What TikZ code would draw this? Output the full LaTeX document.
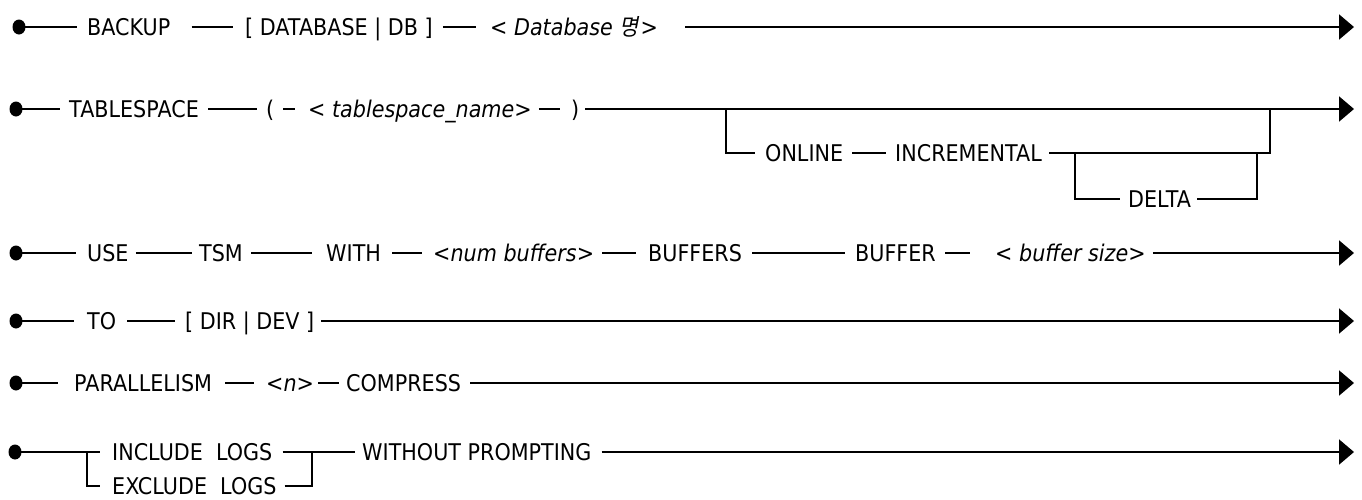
\documentclass[tikz,border=0pt]{standalone}
\usepackage{fontspec}
\setmainfont{DejaVu Sans}[FakeStretch=0.9]
\newfontfamily\krfont[FakeSlant=0.2,FakeStretch=0.9]{Noto Sans CJK KR}
\usetikzlibrary{arrows.meta,shapes.geometric}
\begin{document}
\begin{tikzpicture}[x=1pt,y=-1pt,
  txt/.style={font=\fontsize{23}{27}\selectfont, inner sep=0pt, anchor=west, text height=16.8pt, text depth=0pt},
  itx/.style={txt, font=\fontsize{23}{27}\selectfont\itshape},
  ln/.style={line width=2pt},
  arr/.style={ln, -{Triangle[length=15pt,width=25pt]}},
  dot/.style={ellipse, fill, inner sep=0pt, minimum width=13pt, minimum height=15pt}]
\fill[white] (0,0) rectangle (1362,499);
\useasboundingbox (0,0) rectangle (1362,499);

% Row 1
\node[dot] (d1) at (19,27) {};
\node[txt] (backup) at (87,27) {BACKUP};
\node[txt] (dbkw) at (245,27) {[ DATABASE | DB ]};
\node[itx] (dbname) at (490,27) {< Database {\krfont 명}\kern2pt>};
\coordinate (e1) at (1354,27);
\draw[ln] (d1.center) -- ([xshift=-10pt]backup.west);
\draw[ln] ([xshift=21pt]backup.east) -- ([xshift=-12pt]dbkw.west);
\draw[ln] ([xshift=10pt]dbkw.east) -- ([xshift=-14pt]dbname.west);
\draw[arr] ([xshift=27pt]dbname.east) -- (e1);

% Row 2
\node[dot] (d2) at (16,109) {};
\node[txt] (ts) at (69,109) {TABLESPACE};
\node[txt] (lp) at (266,109) {(};
\node[itx] (tsn) at (308,109) {< tablespace\_name>};
\node[txt] (rp) at (571,109) {)};
\coordinate (e2) at (1354,109);
\draw[ln] (d2.center) -- ([xshift=-9pt]ts.west);
\draw[ln] ([xshift=9pt]ts.east) -- ([xshift=-9pt]lp.west);
\draw[ln] ([xshift=9pt]lp.east) -- ([xshift=-13pt]tsn.west);
\draw[ln] ([xshift=7pt]tsn.east) -- ([xshift=-11pt]rp.west);
\draw[arr] ([xshift=6pt]rp.east) -- (e2);

% Optional branch
\coordinate (b1) at (726,109);
\coordinate (b1d) at (726,153);
\node[txt] (online) at (765,153) {ONLINE};
\node[txt] (incr) at (895,153) {INCREMENTAL};
\coordinate (b2) at (1270,153);
\coordinate (b2u) at (1270,109);
\coordinate (b3) at (1075,153);
\coordinate (b3d) at (1075,199);
\node[txt] (delta) at (1128,199) {DELTA};
\coordinate (b4) at (1257,199);
\coordinate (b4u) at (1257,153);
\draw[ln] (b1) -- (b1d) -- ([xshift=-10pt]online.west);
\draw[ln] ([xshift=9pt]online.east) -- ([xshift=-9pt]incr.west);
\draw[ln] ([xshift=7pt]incr.east) -- (b2) -- (b2u);
\draw[ln] (b3) -- (b3d) -- ([xshift=-8pt]delta.west);
\draw[ln] ([xshift=6pt]delta.east) -- (b4) -- (b4u);

% Row 4
\node[dot] (d4) at (16,253) {};
\node[txt] (use) at (87,253) {USE};
\node[txt] (tsm) at (199,253) {TSM};
\node[txt] (with) at (326,253) {WITH};
\node[itx] (nb) at (433,253) {<num buffers>};
\node[txt] (bufs) at (648,253) {BUFFERS};
\node[txt] (buf) at (855,253) {BUFFER};
\node[itx] (bs) at (995,253) {< buffer size>};
\coordinate (e4) at (1354,253);
\draw[ln] (d4.center) -- ([xshift=-11pt]use.west);
\draw[ln] ([xshift=7pt]use.east) -- ([xshift=-7pt]tsm.west);
\draw[ln] ([xshift=8pt]tsm.east) -- ([xshift=-14pt]with.west);
\draw[ln] ([xshift=11pt]with.east) -- ([xshift=-11pt]nb.west);
\draw[ln] ([xshift=8pt]nb.east) -- ([xshift=-12pt]bufs.west);
\draw[ln] ([xshift=10pt]bufs.east) -- ([xshift=-10pt]buf.west);
\draw[ln] ([xshift=9pt]buf.east) -- ([xshift=-25pt]bs.west);
\draw[arr] ([xshift=7pt]bs.east) -- (e4);

% Row 5
\node[dot] (d5) at (16,321) {};
\node[txt] (to) at (87,321) {TO};
\node[txt] (dd) at (185,321) {[ DIR | DEV ]};
\coordinate (e5) at (1354,321);
\draw[ln] (d5.center) -- ([xshift=-13pt]to.west);
\draw[ln] ([xshift=11pt]to.east) -- ([xshift=-10pt]dd.west);
\draw[arr] ([xshift=7pt]dd.east) -- (e5);

% Row 6
\node[dot] (d6) at (16,383) {};
\node[txt] (par) at (74,383) {PARALLELISM};
\node[itx] (nn) at (266,383) {<n>};
\node[txt] (comp) at (346,383) {COMPRESS};
\coordinate (e6) at (1354,383);
\draw[ln] (d6.center) -- ([xshift=-16pt]par.west);
\draw[ln] ([xshift=13pt]par.east) -- ([xshift=-12pt]nn.west);
\draw[ln] ([xshift=4pt]nn.east) -- ([xshift=-7pt]comp.west);
\draw[arr] ([xshift=9pt]comp.east) -- (e6);

% Row 7
\node[dot] (d7) at (15,452) {};
\coordinate (c1) at (87,452);
\coordinate (c2) at (87,486);
\node[txt] (inc) at (112,452) {INCLUDE\ \ LOGS};
\node[txt] (exc) at (112,486) {EXCLUDE\ \ LOGS};
\coordinate (c3) at (312,452);
\coordinate (c4) at (312,486);
\node[txt] (wp) at (362,452) {WITHOUT PROMPTING};
\coordinate (e7) at (1354,452);
\draw[ln] (d7.center) -- ([xshift=-12pt]inc.west);
\draw[ln] (c1) -- (c2) -- ([xshift=-12pt]exc.west);
\draw[ln] ([xshift=10pt]inc.east) -- (c3) -- ([xshift=-7pt]wp.west);
\draw[ln] ([xshift=8pt]exc.east) -- (c4) -- (c3);
\draw[arr] ([xshift=10pt]wp.east) -- (e7);
\end{tikzpicture}
\end{document}
